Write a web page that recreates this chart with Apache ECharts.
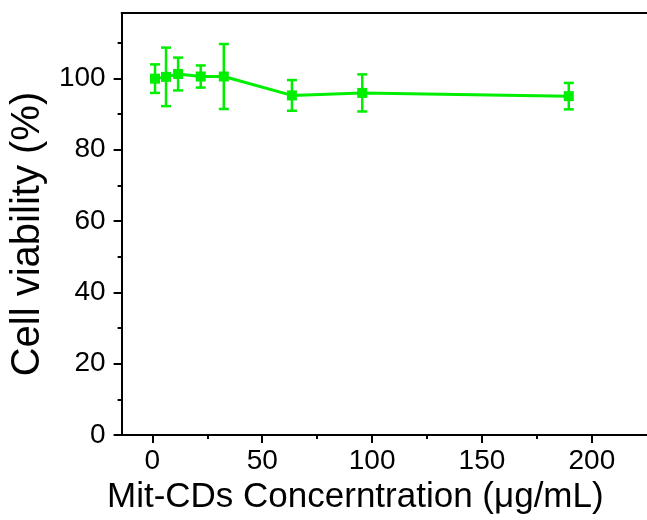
<!DOCTYPE html>
<html>
<head>
<meta charset="utf-8">
<script src="https://cdn.jsdelivr.net/npm/echarts@6/dist/echarts.min.js"></script>
<style>
  html, body { margin: 0; padding: 0; background: #fff; }
  #chart { width: 647px; height: 520px; }
</style>
</head>
<body>
<div id="chart"></div>
<script>
// data
const concentration = [1.2, 6.2, 11.7, 22, 32.5, 63.5, 95.5, 189.5];
const viability = [99.9, 100.4, 101.2, 100.5, 100.5, 95.2, 95.9, 95.0];
const viabilityErr = [4.0, 8.2, 4.6, 3.1, 9.1, 4.3, 5.2, 3.7];

const xMajorTicks = [0, 50, 100, 150, 200];
const xMinorTicks = [25, 75, 125, 175];
const yMajorTicks = [0, 20, 40, 60, 80, 100];
const yMinorTicks = [10, 30, 50, 70, 90, 110];

const green = "#00EE00";
const font = "'Liberation Sans', Arial, sans-serif";

const points = concentration.map((x, i) => [x, viability[i]]);
const errData = concentration.map((x, i) => [x, viability[i] - viabilityErr[i], viability[i] + viabilityErr[i]]);

const xRange = { min: -14, max: 225.1 };
const yRange = { min: 0, max: 118.3 };

const chart = echarts.init(document.getElementById("chart"));

const renderErr = (params, api) => {
  const lo = api.coord([api.value(0), api.value(1)]);
  const hi = api.coord([api.value(0), api.value(2)]);
  const cap = 5;
  const style = { stroke: green, lineWidth: 2.5 };
  return {
    type: "group",
    children: [
      { type: "line", shape: { x1: lo[0], y1: lo[1], x2: hi[0], y2: hi[1] }, style },
      { type: "line", shape: { x1: lo[0] - cap, y1: lo[1], x2: lo[0] + cap, y2: lo[1] }, style },
      { type: "line", shape: { x1: hi[0] - cap, y1: hi[1], x2: hi[0] + cap, y2: hi[1] }, style },
    ],
  };
};

const black = { color: "#000", width: 2 };

chart.setOption({
  animation: false,
  grid: { left: 121, top: 13, right: 0, bottom: 83 },
  xAxis: [
    {
      type: "value",
      ...xRange,
      position: "bottom",
      splitLine: { show: false },
      axisLine: { onZero: false, lineStyle: black },
      axisTick: { customValues: xMajorTicks, length: 8, lineStyle: black },
      axisLabel: { customValues: xMajorTicks, margin: 12, color: "#000", fontSize: 28, fontFamily: font },
      name: "Mit-CDs Concerntration (μg/mL)",
      nameLocation: "middle",
      nameGap: 40,
      nameTextStyle: { color: "#000", fontSize: 35, fontFamily: font, padding: [0, 58, 0, 0] },
    },
    {
      type: "value",
      ...xRange,
      position: "bottom",
      splitLine: { show: false },
      axisLine: { show: false, onZero: false },
      axisTick: { customValues: xMinorTicks, length: 4, lineStyle: black },
      axisLabel: { show: false },
    },
    {
      type: "value",
      ...xRange,
      position: "top",
      splitLine: { show: false },
      axisLine: { onZero: false, lineStyle: black },
      axisTick: { show: false },
      axisLabel: { show: false },
    },
  ],
  yAxis: [
    {
      type: "value",
      ...yRange,
      position: "left",
      splitLine: { show: false },
      axisLine: { show: true, onZero: false, lineStyle: black },
      axisTick: { show: true, customValues: yMajorTicks, length: 8, lineStyle: black },
      axisLabel: { customValues: yMajorTicks, margin: 16, color: "#000", fontSize: 28, fontFamily: font },
      name: "Cell viability (%)",
      nameLocation: "middle",
      nameGap: 63,
      nameTextStyle: { color: "#000", fontSize: 40, fontFamily: font, padding: [0, 20, 0, 0] },
    },
    {
      type: "value",
      ...yRange,
      position: "left",
      splitLine: { show: false },
      axisLine: { show: false, onZero: false },
      axisTick: { show: true, customValues: yMinorTicks, length: 4, lineStyle: black },
      axisLabel: { show: false },
    },
  ],
  series: [
    {
      type: "custom",
      xAxisIndex: 0,
      yAxisIndex: 0,
      renderItem: renderErr,
      data: errData,
      z: 3,
    },
    {
      type: "line",
      xAxisIndex: 0,
      yAxisIndex: 0,
      data: points,
      symbol: "rect",
      symbolSize: 10,
      lineStyle: { color: green, width: 3 },
      itemStyle: { color: green },
      z: 4,
    },
  ],
});
</script>
</body>
</html>
